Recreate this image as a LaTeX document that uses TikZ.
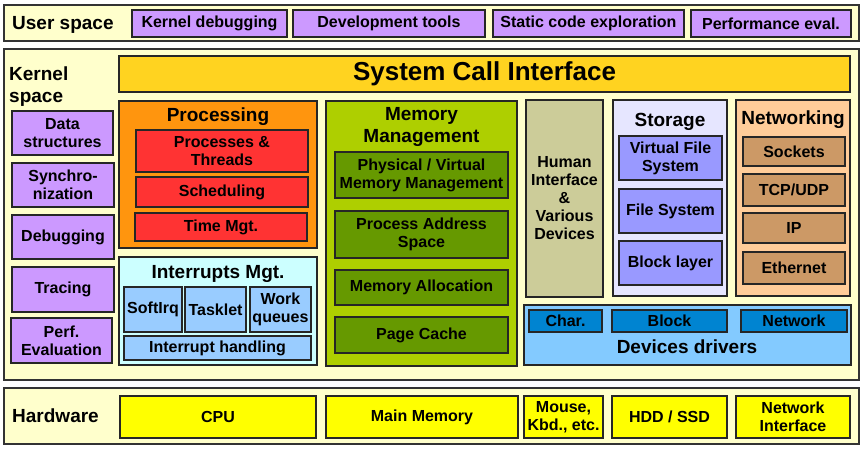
\documentclass[tikz,border=0pt]{standalone}
\usepackage{fontspec}
\setmainfont{Liberation Sans}
\begin{document}
\begin{tikzpicture}[x=1pt,y=-1pt,
  base/.style={draw=black!85, line width=1.6pt, rectangle, inner sep=0pt, align=center, font=\bfseries\fontsize{16}{18}\selectfont},
  outer/.style={base, fill=yl, draw=black!80, line width=1.4pt},
  purp/.style={base, fill=pp},
  sci/.style={base, fill=gold, font=\bfseries\fontsize{26}{28}\selectfont},
  proc/.style={base, fill=orng},
  redb/.style={base, fill=redc},
  intr/.style={base, fill=cyanl},
  intb/.style={base, fill=blul},
  memb/.style={base, fill=lime},
  memi/.style={base, fill=dgreen},
  hum/.style={base, fill=khaki},
  stor/.style={base, fill=lav},
  stori/.style={base, fill=periw},
  netb/.style={base, fill=peach},
  neti/.style={base, fill=brown1},
  devb/.style={base, fill=skyb},
  devi/.style={base, fill=dblue},
  hw/.style={base, fill=yel},
  ttl/.style={inner sep=0pt, align=center, font=\bfseries\fontsize{19}{22}\selectfont},
  lbl/.style={inner sep=0pt, align=left, anchor=west, font=\bfseries\fontsize{19}{22}\selectfont}
]
\definecolor{yl}{RGB}{255,255,204}
\definecolor{pp}{RGB}{204,153,255}
\definecolor{gold}{RGB}{255,211,32}
\definecolor{orng}{RGB}{255,149,14}
\definecolor{redc}{RGB}{255,51,51}
\definecolor{cyanl}{RGB}{204,255,255}
\definecolor{blul}{RGB}{153,204,255}
\definecolor{lime}{RGB}{174,207,0}
\definecolor{dgreen}{RGB}{102,153,0}
\definecolor{khaki}{RGB}{204,204,153}
\definecolor{lav}{RGB}{230,230,255}
\definecolor{periw}{RGB}{153,153,255}
\definecolor{peach}{RGB}{255,204,153}
\definecolor{brown1}{RGB}{204,153,102}
\definecolor{skyb}{RGB}{131,202,255}
\definecolor{dblue}{RGB}{0,132,209}
\definecolor{yel}{RGB}{255,255,0}
\newcommand\bx[7]{%
  \pgfmathsetmacro\bxw{#4-#2}\pgfmathsetmacro\bxh{#5-#3}%
  \pgfmathsetmacro\bxx{(#2+#4)/2}\pgfmathsetmacro\bxy{(#3+#5)/2}%
  \node[#6, minimum width=\bxw pt, minimum height=\bxh pt] (#1) at (\bxx,\bxy) {#7};}
\useasboundingbox (0,0) rectangle (864,448);
\fill[white] (0,0) rectangle (864,448);
% User space
\bx{us}{4}{5}{859}{41}{outer}{}
\node[lbl] (uslbl) at (12,25) {User space};
\bx{kd}{132}{10}{287}{37}{purp}{Kernel debugging}
\bx{dt}{293}{10}{485}{37}{purp}{Development tools}
\bx{sce}{493}{10}{684}{37}{purp}{Static code exploration}
\bx{pe}{691}{10}{851}{37}{purp}{Performance eval.}
% Kernel space
\bx{ks}{4}{49}{859}{380}{outer}{}
\node[lbl] (kslbl) at (9,87) {Kernel\\space};
\bx{sysc}{119}{56}{850}{92}{sci}{System Call Interface}
% left column
\bx{ds}{12}{111}{113}{155}{purp}{Data\\structures}
\bx{sy}{12}{163}{114}{207}{purp}{Synchro-\\nization}
\bx{db}{12}{215}{114}{259}{purp}{Debugging}
\bx{tr}{12}{267}{114}{312}{purp}{Tracing}
\bx{pf}{11}{318}{112}{363}{purp}{Perf.\\Evaluation}
% Processing
\bx{proc}{119}{101}{317}{248}{proc}{}
\node[ttl] (proct) at (218,117) {Processing};
\bx{pt}{136}{130}{308}{172}{redb}{Processes \&\\Threads}
\bx{sch}{136}{177}{308}{207}{redb}{Scheduling}
\bx{tm}{135}{213}{307}{241}{redb}{Time Mgt.}
% Interrupts
\bx{intr}{119}{257}{317}{365}{intr}{}
\node[ttl] (intrt) at (218,274) {Interrupts Mgt.};
\bx{si}{124}{287}{182}{332}{intb}{SoftIrq}
\bx{tk}{185}{287}{246}{332}{intb}{Tasklet}
\bx{wq}{250}{287}{311}{332}{intb}{Work\\queues}
\bx{ih}{124}{336}{311}{360}{intb}{Interrupt handling}
% Memory
\bx{mem}{326}{101}{517}{366}{memb}{}
\node[ttl] (memt) at (421.5,127) {Memory\\Management};
\bx{pvm}{335}{152}{508}{198}{memi}{Physical / Virtual\\Memory Management}
\bx{pas}{335}{211}{508}{258}{memi}{Process Address\\Space}
\bx{ma}{335}{270}{508}{305}{memi}{Memory Allocation}
\bx{pc}{335}{317}{508}{353}{memi}{Page Cache}
% Human interface
\bx{hi}{526}{100}{603}{297}{hum}{Human\\Interface\\\&\\Various\\Devices}
% Storage
\bx{st}{613}{100}{727}{296}{stor}{}
\node[ttl] (stt) at (670,122) {Storage};
\bx{vfs}{619}{136}{722}{180}{stori}{Virtual File\\System}
\bx{fs}{619}{189}{722}{233}{stori}{File System}
\bx{bl}{619}{241}{722}{285}{stori}{Block layer}
% Networking
\bx{nw}{736}{100}{850}{296}{netb}{}
\node[ttl] (nwt) at (793,120) {Networking};
\bx{so}{743}{137}{845}{166}{neti}{Sockets}
\bx{tcp}{743}{174}{845}{206}{neti}{TCP/UDP}
\bx{ip}{743}{213}{845}{243}{neti}{IP}
\bx{eth}{743}{252}{845}{284}{neti}{Ethernet}
% Device drivers
\bx{dd}{524}{305}{851}{365}{devb}{}
\node[ttl] (ddt) at (687,347) {Devices drivers};
\bx{ch}{529}{310}{602}{332}{devi}{Char.}
\bx{blk}{612}{310}{727}{332}{devi}{Block}
\bx{net}{741}{310}{847}{332}{devi}{Network}
% Hardware
\bx{hwb}{4}{388}{859}{444}{outer}{}
\node[lbl] (hwlbl) at (12,416) {Hardware};
\bx{cpu}{120}{396}{316}{438}{hw}{CPU}
\bx{mm}{326}{396}{518}{438}{hw}{Main Memory}
\bx{ms}{524}{396}{603}{438}{hw}{Mouse,\\Kbd., etc.}
\bx{hdd}{612}{396}{727}{438}{hw}{HDD / SSD}
\bx{ni}{736}{396}{850}{438}{hw}{Network\\Interface}
\end{tikzpicture}
\end{document}
